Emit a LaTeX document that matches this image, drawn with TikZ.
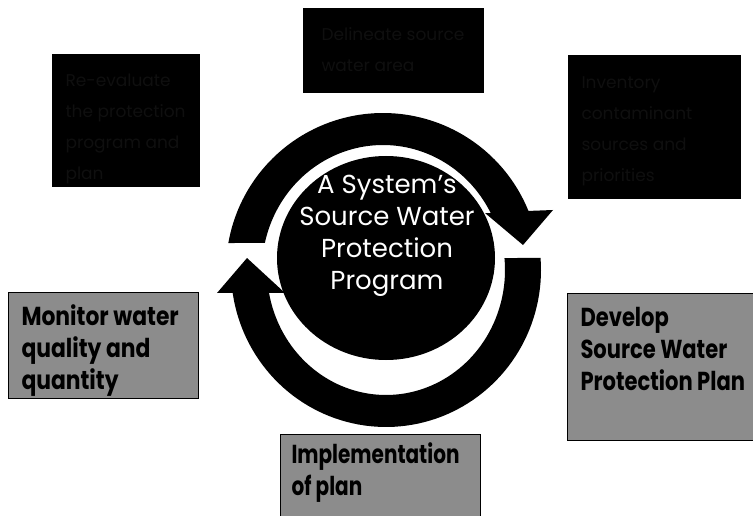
\documentclass[tikz,border=0pt]{standalone}
\usepackage{fontspec}
\setmainfont{Poppins}
\usepackage{graphicx}
\usetikzlibrary{shapes.geometric}
\newcommand{\sqz}[2]{\scalebox{#1}[1]{#2}}
\begin{document}
\begin{tikzpicture}[x=1pt,y=-1pt,
  darkbox/.style={fill=black, draw=black, inner sep=0pt, anchor=north west},
  greybox/.style={fill=black!45, draw=black, line width=0.8pt, inner sep=0pt, anchor=north west},
  darklabel/.style={text=black!94, align=left, anchor=west, font=\fontsize{17}{31}\selectfont},
  steplabel/.style={text=black, align=left, anchor=west, font=\bfseries\fontsize{26}{32}\selectfont}
]
\useasboundingbox (0,0) rectangle (753,516);
\fill[white] (0,0) rectangle (753,516);

% dark boxes
\node[darkbox, minimum width=180pt, minimum height=84pt] (delin) at (303,8) {};
\node[darklabel] at (318,50) {Delineate source\\water area};
\node[darkbox, minimum width=147pt, minimum height=132pt] (reeval) at (52,54) {};
\node[darklabel] at (62,129) {Re-evaluate\\the protection\\program and\\plan};
\node[darkbox, minimum width=172pt, minimum height=143pt] (invent) at (568,55) {};
\node[darklabel] at (578,131) {Inventory\\contaminant\\sources and\\priorities};

% grey boxes
\node[greybox, minimum width=190pt, minimum height=106pt] (monitor) at (8,292) {};
\node[steplabel] (monitortext) at (18,351) {\sqz{0.84}{Monitor water}\\\sqz{0.84}{quality and}\\\sqz{0.84}{quantity}};
\node[greybox, minimum width=186pt, minimum height=147pt] (develop) at (567,293) {};
\node[steplabel] (developtext) at (577,349) {\sqz{0.81}{Develop}\\\sqz{0.81}{Source Water}\\\sqz{0.81}{Protection Plan}};
\node[greybox, minimum width=200pt, minimum height=82pt] (implement) at (280,434) {};
\node[steplabel] (implementtext) at (288,473) {\sqz{0.77}{Implementation}\\\sqz{0.77}{of plan}};

% circular arrows
\fill[black] plot[domain=170.1:22.1, samples=80, variable=\t] ({383+157*cos(\t)},{270-157*sin(\t)})
  -- (553,210) -- (523,245) -- (485,213)
  -- plot[domain=27.1:167.5, samples=80, variable=\t] ({383+121*cos(\t)},{270-125*sin(\t)}) -- cycle;
\fill[black] plot[domain=4.4:-171.6, samples=80, variable=\t] ({386+155*cos(\t)},{270-157*sin(\t)})
  -- (217,293) -- (247,258) -- (285,293)
  -- plot[domain=-169.4:5.5, samples=80, variable=\t] ({386+119*cos(\t)},{270-125*sin(\t)}) -- cycle;

% hub
\node[fill=black, ellipse, minimum width=218pt, minimum height=204pt, inner sep=0pt] (hubdisk) at (386,258) {};
\node[text=white, align=center, font=\fontsize{26}{32}\selectfont] (hub) at (387,236) {A System’s\\Source Water\\Protection\\Program};
\end{tikzpicture}
\end{document}
